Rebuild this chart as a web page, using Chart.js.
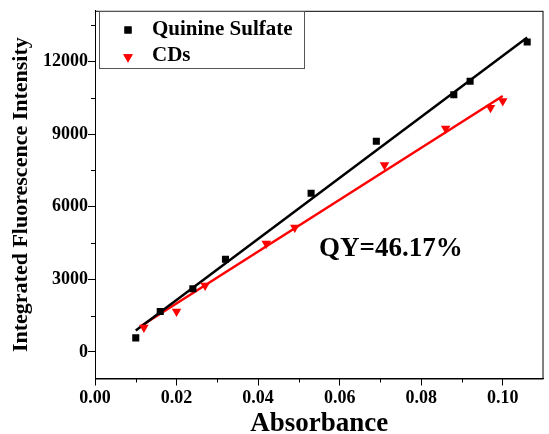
<!DOCTYPE html>
<html>
<head>
<meta charset="utf-8">
<script src="https://cdn.jsdelivr.net/npm/chart.js@4/dist/chart.umd.min.js"></script>
<style>
  html, body { margin: 0; padding: 0; background: #fff; }
  #wrap { width: 549px; height: 434px; }
</style>
</head>
<body>
<div id="wrap"><canvas id="c"></canvas></div>
<script>
// data
const qsAbs = [0.010, 0.016, 0.024, 0.032, 0.053, 0.069, 0.088, 0.092, 0.106];
const qsInt = [580, 1670, 2610, 3830, 6560, 8710, 10630, 11190, 12810];
const cdAbs = [0.012, 0.020, 0.027, 0.042, 0.049, 0.071, 0.086, 0.097, 0.100];
const cdInt = [1010, 1670, 2740, 4480, 5140, 7730, 9230, 10090, 10370];
// fitted lines, end points
const qsFitAbs = [0.010, 0.106];
const qsFitInt = [880, 13000];
const cdFitAbs = [0.011, 0.100];
const cdFitInt = [1040, 10580];

const xTicks = [0.00, 0.02, 0.04, 0.06, 0.08, 0.10];
const yTicks = [0, 3000, 6000, 9000, 12000];
const xMinor = [0.01, 0.03, 0.05, 0.07, 0.09];
const yMinor = [-1500, 1500, 4500, 7500, 10500, 13500];

const FONT = "'Liberation Serif', 'Times New Roman', serif";

function pts(xs, ys) {
  return xs.map((x, i) => ({ x: x, y: ys[i] }));
}

// frame, minor ticks, legend and QY label
const extras = {
  id: 'extras',
  afterDraw(chart) {
    const ctx = chart.ctx;
    const a = chart.chartArea;
    const xs = chart.scales.x, ys = chart.scales.y;
    ctx.save();
    ctx.strokeStyle = '#000';
    ctx.lineWidth = 1;
    ctx.strokeRect(a.left + 0.5, a.top + 0.5, a.right - a.left - 1, a.bottom - a.top);

    // minor ticks
    ctx.beginPath();
    xMinor.forEach(v => {
      const px = Math.round(xs.getPixelForValue(v)) + 0.5;
      ctx.moveTo(px, a.bottom); ctx.lineTo(px, a.bottom + 4);
    });
    yMinor.forEach(v => {
      const py = Math.round(ys.getPixelForValue(v)) + 0.5;
      if (py < a.top || py > a.bottom) return;
      ctx.moveTo(a.left, py); ctx.lineTo(a.left - 4, py);
    });
    ctx.stroke();

    // legend
    ctx.strokeStyle = '#555';
    ctx.strokeRect(99.5, 11.5, 205, 57);
    const ds = chart.data.datasets;
    Chart.helpers.drawPoint(ctx, { pointStyle: 'rect', radius: 5, rotation: 0, borderWidth: 0 }, 128, 30);
    ctx.fillStyle = '#000';
    ctx.fill();
    ctx.fillStyle = '#ff0000';
    ctx.strokeStyle = '#ff0000';
    Chart.helpers.drawPoint(ctx, { pointStyle: 'triangle', radius: 5.5, rotation: 180, borderWidth: 0 }, 128, 57);
    ctx.fill();
    ctx.fillStyle = '#000';
    ctx.font = 'bold 21px ' + FONT;
    ctx.textBaseline = 'middle';
    ctx.textAlign = 'left';
    ctx.fillText(ds[0].label, 152, 30);
    ctx.fillText(ds[1].label, 152, 56);

    // quantum yield label
    ctx.font = 'bold 27px ' + FONT;
    ctx.fillText('QY=46.17%', 319, 249);
    ctx.restore();
  }
};

new Chart(document.getElementById('c'), {
  type: 'scatter',
  data: {
    datasets: [
      {
        label: 'Quinine Sulfate',
        data: pts(qsAbs, qsInt),
        pointStyle: 'rect',
        pointRadius: 5,
        backgroundColor: '#000',
        borderColor: '#000',
        borderWidth: 0
      },
      {
        label: 'CDs',
        data: pts(cdAbs, cdInt),
        pointStyle: 'triangle',
        rotation: 180,
        pointRadius: 5.5,
        backgroundColor: '#ff0000',
        borderColor: '#ff0000',
        borderWidth: 0
      },
      {
        label: 'QS fit',
        data: pts(qsFitAbs, qsFitInt),
        showLine: true,
        pointRadius: 0,
        borderColor: '#000',
        borderWidth: 2.5
      },
      {
        label: 'CDs fit',
        data: pts(cdFitAbs, cdFitInt),
        showLine: true,
        pointRadius: 0,
        borderColor: '#ff0000',
        borderWidth: 2.5
      }
    ]
  },
  options: {
    responsive: true,
    maintainAspectRatio: false,
    animation: false,
    layout: { padding: { top: 8, right: 1, left: 0, bottom: 0 } },
    plugins: {
      legend: { display: false },
      tooltip: { enabled: false }
    },
    scales: {
      x: {
        type: 'linear',
        min: 0,
        max: 0.11,
        afterBuildTicks: s => { s.ticks = xTicks.map(v => ({ value: v })); },
        afterFit: s => { s.height = 55.5; },
        grid: { drawOnChartArea: false, tickLength: 7, color: '#000', tickColor: '#000' },
        border: { color: '#000' },
        ticks: {
          color: '#000',
          padding: 2,
          maxRotation: 0,
          font: { family: FONT, size: 18, weight: 'bold' },
          callback: v => v.toFixed(2)
        },
        title: {
          display: true,
          text: 'Absorbance',
          color: '#000',
          padding: { top: 0, bottom: -6 },
          font: { family: FONT, size: 27, weight: 'bold' }
        }
      },
      y: {
        type: 'linear',
        min: -1100,
        max: 14100,
        afterBuildTicks: s => { s.ticks = yTicks.map(v => ({ value: v })); },
        afterFit: s => { s.width = 95; },
        grid: { drawOnChartArea: false, tickLength: 7, color: '#000', tickColor: '#000' },
        border: { color: '#000' },
        ticks: {
          color: '#000',
          padding: 0,
          font: { family: FONT, size: 18, weight: 'bold' },
          callback: v => String(v)
        },
        title: {
          display: true,
          text: 'Integrated Fluorescence Intensity',
          color: '#000',
          padding: { top: 8, bottom: 0 },
          font: { family: FONT, size: 22, weight: 'bold' }
        }
      }
    }
  },
  plugins: [extras]
});
</script>
</body>
</html>
